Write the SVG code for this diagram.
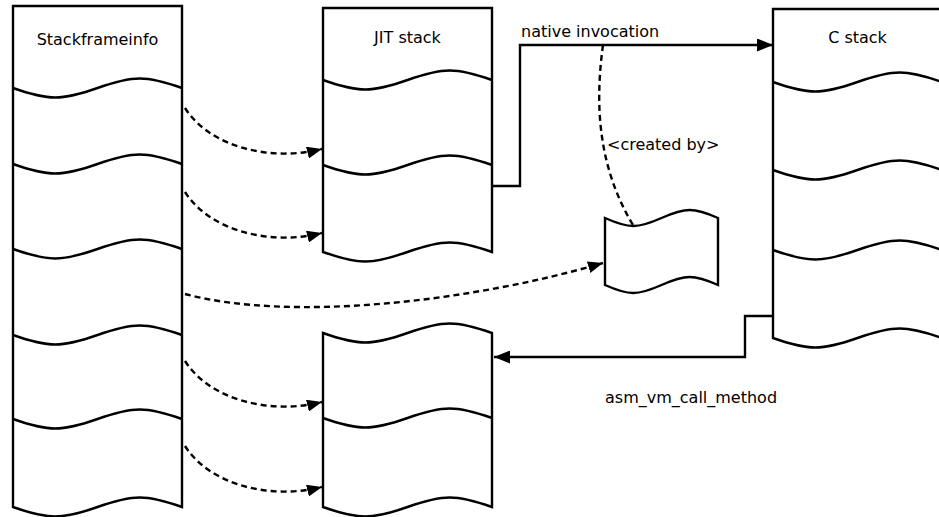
<svg xmlns="http://www.w3.org/2000/svg" xmlns:xlink="http://www.w3.org/1999/xlink" width="939" height="517" viewBox="0 0 939 517">
  <style>
    .box { fill: #ffffff; stroke: #000000; stroke-width: 2.4; stroke-linejoin: miter; }
    .wave { fill: none; stroke: #000000; stroke-width: 2.4; }
    .label { font-family: "DejaVu Sans", "Liberation Sans", sans-serif; font-size: 16px; fill: #000000; }
    .solid { fill: none; stroke: #000000; stroke-width: 2.4; }
    .dashed { fill: none; stroke: #000000; stroke-width: 2.4; stroke-dasharray: 6 4; }
  </style>
  <defs>
    <!-- one full sine period across a 169px wide stack -->
    <path id="wave169" d="M0,0 C35.9,12.67 48.6,12.67 84.5,0 C120.4,-12.67 133.1,-12.67 169,0"/>
    <marker id="arrowSolid" viewBox="0 0 16 13" refX="16" refY="6.5" markerWidth="16" markerHeight="13" markerUnits="userSpaceOnUse" orient="auto">
      <path d="M0,0 L16,6.5 L0,13 Z" fill="#000000"/>
    </marker>
    <marker id="arrowSmall" viewBox="0 0 15 12" refX="15" refY="6" markerWidth="15" markerHeight="12" markerUnits="userSpaceOnUse" orient="auto">
      <path d="M0,0 L15,6 L0,12 Z" fill="#000000"/>
    </marker>
  </defs>

  <!-- Stackframeinfo column -->
  <g id="stackframeinfo">
    <path class="box" d="M13,507 V6 H182 V507 C146.1,494.33 133.4,494.33 97.5,507 C61.6,519.67 48.9,519.67 13,507 Z"/>
    <use class="wave" xlink:href="#wave169" href="#wave169" x="13" y="88"/>
    <use class="wave" xlink:href="#wave169" href="#wave169" x="13" y="164"/>
    <use class="wave" xlink:href="#wave169" href="#wave169" x="13" y="249"/>
    <use class="wave" xlink:href="#wave169" href="#wave169" x="13" y="335"/>
    <use class="wave" xlink:href="#wave169" href="#wave169" x="13" y="419"/>
    <text class="label" x="97.5" y="45" text-anchor="middle">Stackframeinfo</text>
  </g>

  <!-- JIT stack -->
  <g id="jit-stack">
    <path class="box" d="M323,252 V8 H492 V252 C456.1,239.33 443.4,239.33 407.5,252 C371.6,264.67 358.9,264.67 323,252 Z"/>
    <use class="wave" xlink:href="#wave169" href="#wave169" x="323" y="80"/>
    <use class="wave" xlink:href="#wave169" href="#wave169" x="323" y="165"/>
    <text class="label" x="407.5" y="43" text-anchor="middle">JIT stack</text>
  </g>

  <!-- lower VM stack -->
  <g id="vm-stack">
    <path class="box" d="M323,333 C358.9,345.67 371.6,345.67 407.5,333 C443.4,320.33 456.1,320.33 492,333 V507 C456.1,494.33 443.4,494.33 407.5,507 C371.6,519.67 358.9,519.67 323,507 Z"/>
    <use class="wave" xlink:href="#wave169" href="#wave169" x="323" y="418"/>
  </g>

  <!-- C stack -->
  <g id="c-stack">
    <path class="box" d="M773,338 V9 H942 V338 C906.1,325.33 893.4,325.33 857.5,338 C821.6,350.67 808.9,350.67 773,338 Z"/>
    <use class="wave" xlink:href="#wave169" href="#wave169" x="773" y="82"/>
    <use class="wave" xlink:href="#wave169" href="#wave169" x="773" y="170"/>
    <use class="wave" xlink:href="#wave169" href="#wave169" x="773" y="250"/>
    <text class="label" x="857.5" y="43" text-anchor="middle">C stack</text>
  </g>

  <!-- native frame record -->
  <g id="native-frame">
    <path class="box" d="M605,218 C629,228.67 637.5,228.67 661.5,218 C685.5,207.33 694,207.33 718,218 V285 C694,274.33 685.5,274.33 661.5,285 C637.5,295.67 629,295.67 605,285 Z"/>
  </g>

  <!-- connectors -->
  <g id="connectors">
    <path class="solid" d="M492,186 H520 V45 H773" marker-end="url(#arrowSolid)"/>
    <text class="label" x="521" y="37">native invocation</text>

    <path class="solid" d="M773,316 H745 V357 H494" marker-end="url(#arrowSolid)"/>
    <text class="label" x="605" y="403">asm_vm_call_method</text>

    <path class="dashed" d="M603,45 C594,110 600,170 633,225"/>
    <text class="label" x="607" y="150">&lt;created by&gt;</text>

    <path class="dashed" d="M185,108 C210,147 270,162 322,149" marker-end="url(#arrowSmall)"/>
    <path class="dashed" d="M185,192 C210,231 270,246 322,233" marker-end="url(#arrowSmall)"/>
    <path class="dashed" d="M185,294 C290,322 470,302 603,263" marker-end="url(#arrowSmall)"/>
    <path class="dashed" d="M185,361 C210,400 270,415 322,402" marker-end="url(#arrowSmall)"/>
    <path class="dashed" d="M185,446 C210,485 270,500 322,487" marker-end="url(#arrowSmall)"/>
  </g>
</svg>
